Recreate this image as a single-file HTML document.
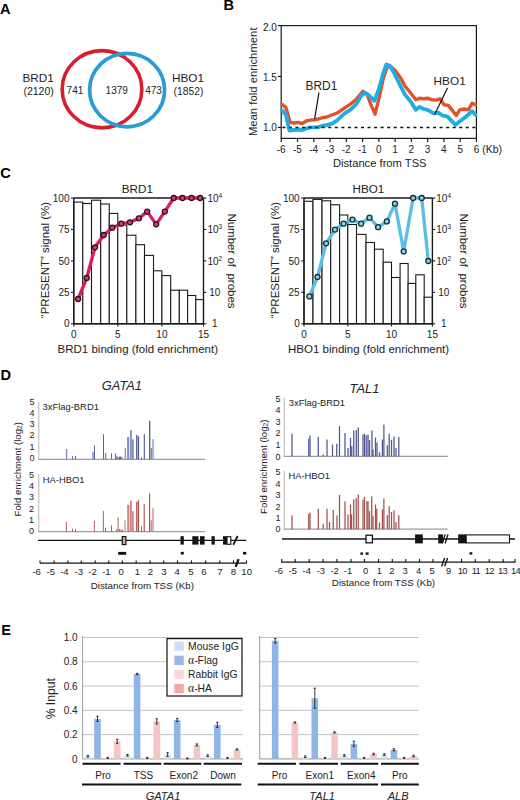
<!DOCTYPE html>
<html><head><meta charset="utf-8"><title>Figure</title>
<style>
html,body{margin:0;padding:0;background:#fff;}
body{width:520px;height:800px;overflow:hidden;}
svg{display:block;font-family:"Liberation Sans", sans-serif;}
</style></head>
<body>
<svg width="520" height="800" viewBox="0 0 520 800">
<rect x="0" y="0" width="520" height="800" fill="#fff"/>
<text x="0.0" y="14.2" font-size="14.6" font-weight="bold" fill="#000">A</text>
<text x="223.4" y="10.1" font-size="14.6" font-weight="bold" fill="#000">B</text>
<text x="0.3" y="177.7" font-size="14.6" font-weight="bold" fill="#000">C</text>
<text x="0.4" y="379.6" font-size="14.6" font-weight="bold" fill="#000">D</text>
<text x="1.3" y="635.0" font-size="14.6" font-weight="bold" fill="#000">E</text>
<ellipse cx="102" cy="89.25" rx="39.85" ry="38.65" fill="none" stroke="#d6202e" stroke-width="3.6"/>
<ellipse cx="127.1" cy="90.1" rx="37.5" ry="36.7" fill="none" stroke="#2a9ad8" stroke-width="3.7"/>
<text x="22.5" y="81.9" font-size="11.75" fill="#222">BRD1</text>
<text x="23.4" y="94.6" font-size="10.5" fill="#222">(2120)</text>
<text x="66.6" y="94.3" font-size="10" fill="#222">741</text>
<text x="105.6" y="94.3" font-size="10" fill="#222">1379</text>
<text x="145.2" y="94.3" font-size="10" fill="#222">473</text>
<text x="172.0" y="81.7" font-size="11.75" fill="#222">HBO1</text>
<text x="173.6" y="94.6" font-size="10.3" fill="#222">(1852)</text>
<rect x="281.2" y="25.6" width="195.2" height="112.80000000000001" fill="none" stroke="#1a1a1a" stroke-width="1.2"/>
<line x1="277.8" y1="25.60000000000001" x2="281.2" y2="25.60000000000001" stroke="#1a1a1a" stroke-width="1.2"/>
<text x="276.9" y="30.6" font-size="10" text-anchor="end" fill="#222">2.0</text>
<line x1="277.8" y1="76.5" x2="281.2" y2="76.5" stroke="#1a1a1a" stroke-width="1.2"/>
<text x="276.9" y="81.2" font-size="10" text-anchor="end" fill="#222">1.5</text>
<line x1="277.8" y1="127.4" x2="281.2" y2="127.4" stroke="#1a1a1a" stroke-width="1.2"/>
<text x="276.9" y="130.6" font-size="10" text-anchor="end" fill="#222">1.0</text>
<line x1="281.3" y1="138.4" x2="281.3" y2="141.9" stroke="#1a1a1a" stroke-width="1.2"/>
<text x="281.1" y="152.8" font-size="10" text-anchor="middle" fill="#222">-6</text>
<line x1="297.56" y1="138.4" x2="297.56" y2="141.9" stroke="#1a1a1a" stroke-width="1.2"/>
<text x="297.36" y="152.8" font-size="10" text-anchor="middle" fill="#222">-5</text>
<line x1="313.82" y1="138.4" x2="313.82" y2="141.9" stroke="#1a1a1a" stroke-width="1.2"/>
<text x="313.62" y="152.8" font-size="10" text-anchor="middle" fill="#222">-4</text>
<line x1="330.08000000000004" y1="138.4" x2="330.08000000000004" y2="141.9" stroke="#1a1a1a" stroke-width="1.2"/>
<text x="329.88000000000005" y="152.8" font-size="10" text-anchor="middle" fill="#222">-3</text>
<line x1="346.34000000000003" y1="138.4" x2="346.34000000000003" y2="141.9" stroke="#1a1a1a" stroke-width="1.2"/>
<text x="346.14000000000004" y="152.8" font-size="10" text-anchor="middle" fill="#222">-2</text>
<line x1="362.6" y1="138.4" x2="362.6" y2="141.9" stroke="#1a1a1a" stroke-width="1.2"/>
<text x="362.40000000000003" y="152.8" font-size="10" text-anchor="middle" fill="#222">-1</text>
<line x1="378.86" y1="138.4" x2="378.86" y2="141.9" stroke="#1a1a1a" stroke-width="1.2"/>
<text x="378.86" y="152.8" font-size="10" text-anchor="middle" fill="#222">0</text>
<line x1="395.12" y1="138.4" x2="395.12" y2="141.9" stroke="#1a1a1a" stroke-width="1.2"/>
<text x="395.12" y="152.8" font-size="10" text-anchor="middle" fill="#222">1</text>
<line x1="411.38" y1="138.4" x2="411.38" y2="141.9" stroke="#1a1a1a" stroke-width="1.2"/>
<text x="411.38" y="152.8" font-size="10" text-anchor="middle" fill="#222">2</text>
<line x1="427.64" y1="138.4" x2="427.64" y2="141.9" stroke="#1a1a1a" stroke-width="1.2"/>
<text x="427.64" y="152.8" font-size="10" text-anchor="middle" fill="#222">3</text>
<line x1="443.90000000000003" y1="138.4" x2="443.90000000000003" y2="141.9" stroke="#1a1a1a" stroke-width="1.2"/>
<text x="443.90000000000003" y="152.8" font-size="10" text-anchor="middle" fill="#222">4</text>
<line x1="460.16" y1="138.4" x2="460.16" y2="141.9" stroke="#1a1a1a" stroke-width="1.2"/>
<text x="460.16" y="152.8" font-size="10" text-anchor="middle" fill="#222">5</text>
<line x1="476.42" y1="138.4" x2="476.42" y2="141.9" stroke="#1a1a1a" stroke-width="1.2"/>
<text x="476.42" y="152.8" font-size="10" text-anchor="middle" fill="#222">6</text>
<text x="482.2" y="152.8" font-size="10.5" fill="#222">(Kb)</text>
<text x="332.9" y="166.8" font-size="11.2" fill="#222">Distance from TSS</text>
<text transform="translate(256.8 81.8) rotate(-90)" font-size="11.3" text-anchor="middle" fill="#222">Mean fold enrichment</text>
<polyline points="282.0,104.2 286.0,107.6 290.1,122.4 294.2,123.0 298.2,122.4 302.2,123.7 306.3,121.0 310.3,120.1 314.3,119.7 318.4,119.0 322.4,117.7 326.5,117.0 331.8,115.0 337.2,113.0 341.0,110.5 345.4,107.4 350.8,103.9 356.2,99.4 362.9,91.3 366.9,94.0 371.0,104.8 375.0,114.2 379.0,98.1 383.1,79.2 387.1,67.1 390.5,66.4 395.2,70.5 400.6,77.9 405.0,86.0 410.8,93.2 415.8,99.7 419.4,98.2 423.8,98.7 427.4,98.2 431.7,99.7 436.0,100.1 440.3,98.9 443.9,104.7 448.3,105.4 451.9,109.8 456.2,115.5 459.8,109.8 464.1,109.0 468.5,109.8 472.1,103.3 475.7,104.7" fill="none" stroke="#e2522a" stroke-width="3.4" stroke-linejoin="round" stroke-linecap="round"/>
<polyline points="282.0,110.3 286.0,115.0 289.4,130.5 294.2,129.8 298.2,129.5 302.2,130.0 306.3,128.5 310.3,127.4 314.3,127.4 318.4,127.1 322.4,125.8 326.5,125.1 331.8,123.7 337.2,120.4 340.5,117.0 345.4,112.9 350.8,109.3 356.2,104.4 361.5,95.4 364.9,92.7 368.9,95.4 374.3,100.8 379.0,88.6 383.1,73.8 386.4,64.4 389.8,65.8 393.8,72.5 399.2,83.3 405.0,94.6 410.8,101.8 415.8,109.8 419.4,106.9 423.8,109.0 427.4,109.8 433.8,113.4 438.2,112.6 442.5,115.5 447.5,116.7 455.5,124.9 459.8,121.3 465.6,117.0 472.1,111.2 475.7,114.8" fill="none" stroke="#1badE3" stroke-width="3.8" stroke-linejoin="round" stroke-linecap="round"/>
<line x1="282.4" y1="127.5" x2="476" y2="127.5" stroke="#111" stroke-width="1.6" stroke-dasharray="3.0 3.55"/>
<text x="305.6" y="90.3" font-size="11.9" fill="#222">BRD1</text>
<line x1="319" y1="92.3" x2="314.6" y2="119" stroke="#111" stroke-width="1.2"/>
<text x="433.6" y="84.7" font-size="11.8" fill="#222">HBO1</text>
<line x1="447.5" y1="88.1" x2="434.6" y2="114.5" stroke="#111" stroke-width="1.2"/>
<rect x="73.80" y="202.10" width="9.00" height="121.70" fill="#fff" stroke="#1a1a1a" stroke-width="1.1"/>
<rect x="82.80" y="203.50" width="8.70" height="120.30" fill="#fff" stroke="#1a1a1a" stroke-width="1.1"/>
<rect x="91.50" y="200.20" width="9.20" height="123.60" fill="#fff" stroke="#1a1a1a" stroke-width="1.1"/>
<rect x="100.70" y="204.00" width="8.60" height="119.80" fill="#fff" stroke="#1a1a1a" stroke-width="1.1"/>
<rect x="109.30" y="213.40" width="8.50" height="110.40" fill="#fff" stroke="#1a1a1a" stroke-width="1.1"/>
<rect x="117.80" y="225.00" width="9.00" height="98.80" fill="#fff" stroke="#1a1a1a" stroke-width="1.1"/>
<rect x="126.80" y="235.20" width="9.10" height="88.60" fill="#fff" stroke="#1a1a1a" stroke-width="1.1"/>
<rect x="135.90" y="244.70" width="8.60" height="79.10" fill="#fff" stroke="#1a1a1a" stroke-width="1.1"/>
<rect x="144.50" y="255.40" width="9.00" height="68.40" fill="#fff" stroke="#1a1a1a" stroke-width="1.1"/>
<rect x="153.50" y="270.80" width="8.40" height="53.00" fill="#fff" stroke="#1a1a1a" stroke-width="1.1"/>
<rect x="161.90" y="275.60" width="8.80" height="48.20" fill="#fff" stroke="#1a1a1a" stroke-width="1.1"/>
<rect x="170.70" y="290.20" width="8.60" height="33.60" fill="#fff" stroke="#1a1a1a" stroke-width="1.1"/>
<rect x="179.30" y="290.20" width="8.30" height="33.60" fill="#fff" stroke="#1a1a1a" stroke-width="1.1"/>
<rect x="187.60" y="295.50" width="8.20" height="28.30" fill="#fff" stroke="#1a1a1a" stroke-width="1.1"/>
<rect x="195.80" y="299.60" width="7.70" height="24.20" fill="#fff" stroke="#1a1a1a" stroke-width="1.1"/>
<line x1="73.8" y1="198.0" x2="203.5" y2="198.0" stroke="#1a1a1a" stroke-width="1.4"/>
<line x1="73.8" y1="198.0" x2="73.8" y2="324.40000000000003" stroke="#1a1a1a" stroke-width="1.4"/>
<line x1="203.5" y1="198.0" x2="203.5" y2="324.40000000000003" stroke="#1a1a1a" stroke-width="1.4"/>
<line x1="73.2" y1="323.8" x2="204.1" y2="323.8" stroke="#1a1a1a" stroke-width="1.4"/>
<line x1="71.0" y1="198.0" x2="73.8" y2="198.0" stroke="#1a1a1a" stroke-width="1.1"/>
<line x1="203.5" y1="198.0" x2="206.3" y2="198.0" stroke="#1a1a1a" stroke-width="1.1"/>
<text x="69.5" y="201.6" font-size="10" text-anchor="end" fill="#222">100</text>
<line x1="71.0" y1="229.45" x2="73.8" y2="229.45" stroke="#1a1a1a" stroke-width="1.1"/>
<line x1="203.5" y1="229.45" x2="206.3" y2="229.45" stroke="#1a1a1a" stroke-width="1.1"/>
<text x="69.5" y="233.04999999999998" font-size="10" text-anchor="end" fill="#222">75</text>
<line x1="71.0" y1="260.9" x2="73.8" y2="260.9" stroke="#1a1a1a" stroke-width="1.1"/>
<line x1="203.5" y1="260.9" x2="206.3" y2="260.9" stroke="#1a1a1a" stroke-width="1.1"/>
<text x="69.5" y="264.5" font-size="10" text-anchor="end" fill="#222">50</text>
<line x1="71.0" y1="292.35" x2="73.8" y2="292.35" stroke="#1a1a1a" stroke-width="1.1"/>
<line x1="203.5" y1="292.35" x2="206.3" y2="292.35" stroke="#1a1a1a" stroke-width="1.1"/>
<text x="69.5" y="295.95000000000005" font-size="10" text-anchor="end" fill="#222">25</text>
<line x1="71.0" y1="323.8" x2="73.8" y2="323.8" stroke="#1a1a1a" stroke-width="1.1"/>
<line x1="203.5" y1="323.8" x2="206.3" y2="323.8" stroke="#1a1a1a" stroke-width="1.1"/>
<text x="69.5" y="327.40000000000003" font-size="10" text-anchor="end" fill="#222">0</text>
<text x="214.8" y="201.6" font-size="10" text-anchor="middle" fill="#222">10<tspan font-size="6.5" dy="-4">4</tspan></text>
<text x="214.8" y="233.04999999999998" font-size="10" text-anchor="middle" fill="#222">10<tspan font-size="6.5" dy="-4">3</tspan></text>
<text x="214.8" y="264.5" font-size="10" text-anchor="middle" fill="#222">10<tspan font-size="6.5" dy="-4">2</tspan></text>
<text x="214.8" y="295.95000000000005" font-size="10" text-anchor="middle" fill="#222">10</text>
<text x="214.8" y="327.40000000000003" font-size="10" text-anchor="middle" fill="#222">1</text>
<line x1="73.8" y1="323.8" x2="73.8" y2="326.40000000000003" stroke="#1a1a1a" stroke-width="1.1"/>
<text x="73.8" y="337.6" font-size="10" text-anchor="middle" fill="#222">0</text>
<line x1="117.8" y1="323.8" x2="117.8" y2="326.40000000000003" stroke="#1a1a1a" stroke-width="1.1"/>
<text x="117.8" y="337.6" font-size="10" text-anchor="middle" fill="#222">5</text>
<line x1="161.9" y1="323.8" x2="161.9" y2="326.40000000000003" stroke="#1a1a1a" stroke-width="1.1"/>
<text x="161.9" y="337.6" font-size="10" text-anchor="middle" fill="#222">10</text>
<line x1="203.5" y1="323.8" x2="203.5" y2="326.40000000000003" stroke="#1a1a1a" stroke-width="1.1"/>
<text x="203.5" y="337.6" font-size="10" text-anchor="middle" fill="#222">15</text>
<polyline points="78.1,299.0 86.7,278.0 95.0,247.3 103.7,235.0 112.3,227.7 121.2,223.7 130.0,222.3 138.9,218.3 147.2,211.6 156.2,224.3 164.8,211.6 173.7,198.0 182.5,198.0 191.5,198.0 200.1,198.0" fill="none" stroke="#d81d68" stroke-width="3.3" stroke-linejoin="round" stroke-linecap="round"/>
<circle cx="78.1" cy="299" r="2.5" fill="#c24778" stroke="#3a0a1a" stroke-width="1.3"/>
<circle cx="86.7" cy="278" r="2.5" fill="#c24778" stroke="#3a0a1a" stroke-width="1.3"/>
<circle cx="95" cy="247.3" r="2.5" fill="#c24778" stroke="#3a0a1a" stroke-width="1.3"/>
<circle cx="103.7" cy="235" r="2.5" fill="#c24778" stroke="#3a0a1a" stroke-width="1.3"/>
<circle cx="112.3" cy="227.7" r="2.5" fill="#c24778" stroke="#3a0a1a" stroke-width="1.3"/>
<circle cx="121.2" cy="223.7" r="2.5" fill="#c24778" stroke="#3a0a1a" stroke-width="1.3"/>
<circle cx="130" cy="222.3" r="2.5" fill="#c24778" stroke="#3a0a1a" stroke-width="1.3"/>
<circle cx="138.9" cy="218.3" r="2.5" fill="#c24778" stroke="#3a0a1a" stroke-width="1.3"/>
<circle cx="147.2" cy="211.6" r="2.5" fill="#c24778" stroke="#3a0a1a" stroke-width="1.3"/>
<circle cx="156.2" cy="224.3" r="2.5" fill="#c24778" stroke="#3a0a1a" stroke-width="1.3"/>
<circle cx="164.8" cy="211.6" r="2.5" fill="#c24778" stroke="#3a0a1a" stroke-width="1.3"/>
<circle cx="173.7" cy="198" r="2.5" fill="#c24778" stroke="#3a0a1a" stroke-width="1.3"/>
<circle cx="182.5" cy="198" r="2.5" fill="#c24778" stroke="#3a0a1a" stroke-width="1.3"/>
<circle cx="191.5" cy="198" r="2.5" fill="#c24778" stroke="#3a0a1a" stroke-width="1.3"/>
<circle cx="200.1" cy="198" r="2.5" fill="#c24778" stroke="#3a0a1a" stroke-width="1.3"/>
<text x="137.3" y="193.2" font-size="11.7" text-anchor="middle" fill="#222">BRD1</text>
<text x="137.8" y="353.2" font-size="11.5" text-anchor="middle" fill="#222">BRD1 binding (fold enrichment)</text>
<text transform="translate(48.6 260) rotate(-90)" font-size="11.5" text-anchor="middle" fill="#222">“PRESENT” signal (%)</text>
<text transform="translate(227.7 261) rotate(90)" font-size="11.5" text-anchor="middle" fill="#222">Number of&#160;&#160;probes</text>
<rect x="304.00" y="201.30" width="9.00" height="122.50" fill="#fff" stroke="#1a1a1a" stroke-width="1.1"/>
<rect x="313.00" y="199.40" width="9.00" height="124.40" fill="#fff" stroke="#1a1a1a" stroke-width="1.1"/>
<rect x="322.00" y="200.80" width="8.70" height="123.00" fill="#fff" stroke="#1a1a1a" stroke-width="1.1"/>
<rect x="330.70" y="204.80" width="8.90" height="119.00" fill="#fff" stroke="#1a1a1a" stroke-width="1.1"/>
<rect x="339.60" y="215.00" width="8.20" height="108.80" fill="#fff" stroke="#1a1a1a" stroke-width="1.1"/>
<rect x="347.80" y="224.50" width="8.70" height="99.30" fill="#fff" stroke="#1a1a1a" stroke-width="1.1"/>
<rect x="356.50" y="234.40" width="9.50" height="89.40" fill="#fff" stroke="#1a1a1a" stroke-width="1.1"/>
<rect x="366.00" y="242.50" width="8.50" height="81.30" fill="#fff" stroke="#1a1a1a" stroke-width="1.1"/>
<rect x="374.50" y="249.20" width="8.70" height="74.60" fill="#fff" stroke="#1a1a1a" stroke-width="1.1"/>
<rect x="383.20" y="262.20" width="8.30" height="61.60" fill="#fff" stroke="#1a1a1a" stroke-width="1.1"/>
<rect x="391.50" y="277.50" width="8.60" height="46.30" fill="#fff" stroke="#1a1a1a" stroke-width="1.1"/>
<rect x="400.10" y="263.50" width="8.00" height="60.30" fill="#fff" stroke="#1a1a1a" stroke-width="1.1"/>
<rect x="408.10" y="283.40" width="7.70" height="40.40" fill="#fff" stroke="#1a1a1a" stroke-width="1.1"/>
<rect x="415.80" y="274.80" width="8.40" height="49.00" fill="#fff" stroke="#1a1a1a" stroke-width="1.1"/>
<rect x="424.20" y="297.20" width="8.20" height="26.60" fill="#fff" stroke="#1a1a1a" stroke-width="1.1"/>
<line x1="304" y1="198.0" x2="432.4" y2="198.0" stroke="#1a1a1a" stroke-width="1.4"/>
<line x1="304" y1="198.0" x2="304" y2="324.40000000000003" stroke="#1a1a1a" stroke-width="1.4"/>
<line x1="432.4" y1="198.0" x2="432.4" y2="324.40000000000003" stroke="#1a1a1a" stroke-width="1.4"/>
<line x1="303.4" y1="323.8" x2="433.0" y2="323.8" stroke="#1a1a1a" stroke-width="1.4"/>
<line x1="301.2" y1="198.0" x2="304" y2="198.0" stroke="#1a1a1a" stroke-width="1.1"/>
<line x1="432.4" y1="198.0" x2="435.2" y2="198.0" stroke="#1a1a1a" stroke-width="1.1"/>
<text x="299.7" y="201.6" font-size="10" text-anchor="end" fill="#222">100</text>
<line x1="301.2" y1="229.45" x2="304" y2="229.45" stroke="#1a1a1a" stroke-width="1.1"/>
<line x1="432.4" y1="229.45" x2="435.2" y2="229.45" stroke="#1a1a1a" stroke-width="1.1"/>
<text x="299.7" y="233.04999999999998" font-size="10" text-anchor="end" fill="#222">75</text>
<line x1="301.2" y1="260.9" x2="304" y2="260.9" stroke="#1a1a1a" stroke-width="1.1"/>
<line x1="432.4" y1="260.9" x2="435.2" y2="260.9" stroke="#1a1a1a" stroke-width="1.1"/>
<text x="299.7" y="264.5" font-size="10" text-anchor="end" fill="#222">50</text>
<line x1="301.2" y1="292.35" x2="304" y2="292.35" stroke="#1a1a1a" stroke-width="1.1"/>
<line x1="432.4" y1="292.35" x2="435.2" y2="292.35" stroke="#1a1a1a" stroke-width="1.1"/>
<text x="299.7" y="295.95000000000005" font-size="10" text-anchor="end" fill="#222">25</text>
<line x1="301.2" y1="323.8" x2="304" y2="323.8" stroke="#1a1a1a" stroke-width="1.1"/>
<line x1="432.4" y1="323.8" x2="435.2" y2="323.8" stroke="#1a1a1a" stroke-width="1.1"/>
<text x="299.7" y="327.40000000000003" font-size="10" text-anchor="end" fill="#222">0</text>
<text x="443.7" y="201.6" font-size="10" text-anchor="middle" fill="#222">10<tspan font-size="6.5" dy="-4">4</tspan></text>
<text x="443.7" y="233.04999999999998" font-size="10" text-anchor="middle" fill="#222">10<tspan font-size="6.5" dy="-4">3</tspan></text>
<text x="443.7" y="264.5" font-size="10" text-anchor="middle" fill="#222">10<tspan font-size="6.5" dy="-4">2</tspan></text>
<text x="443.7" y="295.95000000000005" font-size="10" text-anchor="middle" fill="#222">10</text>
<text x="443.7" y="327.40000000000003" font-size="10" text-anchor="middle" fill="#222">1</text>
<line x1="304" y1="323.8" x2="304" y2="326.40000000000003" stroke="#1a1a1a" stroke-width="1.1"/>
<text x="304" y="337.6" font-size="10" text-anchor="middle" fill="#222">0</text>
<line x1="347.8" y1="323.8" x2="347.8" y2="326.40000000000003" stroke="#1a1a1a" stroke-width="1.1"/>
<text x="347.8" y="337.6" font-size="10" text-anchor="middle" fill="#222">5</text>
<line x1="391.5" y1="323.8" x2="391.5" y2="326.40000000000003" stroke="#1a1a1a" stroke-width="1.1"/>
<text x="391.5" y="337.6" font-size="10" text-anchor="middle" fill="#222">10</text>
<line x1="432.4" y1="323.8" x2="432.4" y2="326.40000000000003" stroke="#1a1a1a" stroke-width="1.1"/>
<text x="432.4" y="337.6" font-size="10" text-anchor="middle" fill="#222">15</text>
<polyline points="309.4,296.4 317.5,277.0 326.1,243.3 335.0,229.6 343.6,223.7 352.5,219.6 361.1,223.7 369.5,217.7 378.1,227.2 386.8,221.4 395.0,203.7 403.7,251.4 413.1,198.0 421.7,198.0 428.3,261.0" fill="none" stroke="#5bbde6" stroke-width="3.3" stroke-linejoin="round" stroke-linecap="round"/>
<circle cx="309.4" cy="296.4" r="2.5" fill="#8ccfe9" stroke="#14303c" stroke-width="1.3"/>
<circle cx="317.5" cy="277" r="2.5" fill="#8ccfe9" stroke="#14303c" stroke-width="1.3"/>
<circle cx="326.1" cy="243.3" r="2.5" fill="#8ccfe9" stroke="#14303c" stroke-width="1.3"/>
<circle cx="335" cy="229.6" r="2.5" fill="#8ccfe9" stroke="#14303c" stroke-width="1.3"/>
<circle cx="343.6" cy="223.7" r="2.5" fill="#8ccfe9" stroke="#14303c" stroke-width="1.3"/>
<circle cx="352.5" cy="219.6" r="2.5" fill="#8ccfe9" stroke="#14303c" stroke-width="1.3"/>
<circle cx="361.1" cy="223.7" r="2.5" fill="#8ccfe9" stroke="#14303c" stroke-width="1.3"/>
<circle cx="369.5" cy="217.7" r="2.5" fill="#8ccfe9" stroke="#14303c" stroke-width="1.3"/>
<circle cx="378.1" cy="227.2" r="2.5" fill="#8ccfe9" stroke="#14303c" stroke-width="1.3"/>
<circle cx="386.8" cy="221.4" r="2.5" fill="#8ccfe9" stroke="#14303c" stroke-width="1.3"/>
<circle cx="395" cy="203.7" r="2.5" fill="#8ccfe9" stroke="#14303c" stroke-width="1.3"/>
<circle cx="403.7" cy="251.4" r="2.5" fill="#8ccfe9" stroke="#14303c" stroke-width="1.3"/>
<circle cx="413.1" cy="198" r="2.5" fill="#8ccfe9" stroke="#14303c" stroke-width="1.3"/>
<circle cx="421.7" cy="198" r="2.5" fill="#8ccfe9" stroke="#14303c" stroke-width="1.3"/>
<circle cx="428.3" cy="261" r="2.5" fill="#8ccfe9" stroke="#14303c" stroke-width="1.3"/>
<text x="368.4" y="193.4" font-size="11.7" text-anchor="middle" fill="#222">HBO1</text>
<text x="368.6" y="352.6" font-size="11.5" text-anchor="middle" fill="#222">HBO1 binding (fold enrichment)</text>
<text transform="translate(278.5 260) rotate(-90)" font-size="11.5" text-anchor="middle" fill="#222">“PRESENT” signal (%)</text>
<text transform="translate(460.0 261) rotate(90)" font-size="11.5" text-anchor="middle" fill="#222">Number of&#160;&#160;probes</text>
<text x="101.8" y="389.9" font-size="12.85" font-style="italic" fill="#222">GATA1</text>
<line x1="38.8" y1="402.2" x2="38.8" y2="459.3" stroke="#b4b4b4" stroke-width="1"/>
<line x1="38.3" y1="459.3" x2="205.0" y2="459.3" stroke="#9c9c9c" stroke-width="1.2"/>
<text x="31.9" y="461.0" font-size="9.0" text-anchor="middle" fill="#222">0</text>
<text x="31.9" y="449.71999999999997" font-size="9.0" text-anchor="middle" fill="#222">1</text>
<text x="31.9" y="438.44" font-size="9.0" text-anchor="middle" fill="#222">2</text>
<text x="31.9" y="427.15999999999997" font-size="9.0" text-anchor="middle" fill="#222">3</text>
<text x="31.9" y="415.88" font-size="9.0" text-anchor="middle" fill="#222">4</text>
<text x="31.9" y="404.59999999999997" font-size="9.0" text-anchor="middle" fill="#222">5</text>
<text x="42.6" y="409.9" font-size="9.4" fill="#222">3xFlag-BRD1</text>
<rect x="66.25" y="449.00" width="0.90" height="10.30" fill="#4c5494" stroke="none" stroke-width="1"/>
<rect x="72.05" y="456.40" width="0.90" height="2.90" fill="#4c5494" stroke="none" stroke-width="1"/>
<rect x="75.15" y="455.80" width="0.90" height="3.50" fill="#4c5494" stroke="none" stroke-width="1"/>
<rect x="92.30" y="451.70" width="1.40" height="7.60" fill="#8289c2" stroke="none" stroke-width="1"/>
<rect x="94.05" y="445.30" width="0.90" height="14.00" fill="#4c5494" stroke="none" stroke-width="1"/>
<rect x="103.05" y="434.20" width="0.90" height="25.10" fill="#4c5494" stroke="none" stroke-width="1"/>
<rect x="105.35" y="452.80" width="0.90" height="6.50" fill="#4c5494" stroke="none" stroke-width="1"/>
<rect x="111.05" y="453.30" width="0.90" height="6.00" fill="#4c5494" stroke="none" stroke-width="1"/>
<rect x="115.05" y="453.30" width="0.90" height="6.00" fill="#4c5494" stroke="none" stroke-width="1"/>
<rect x="116.35" y="456.40" width="0.90" height="2.90" fill="#4c5494" stroke="none" stroke-width="1"/>
<rect x="117.55" y="456.40" width="0.90" height="2.90" fill="#4c5494" stroke="none" stroke-width="1"/>
<rect x="119.05" y="456.80" width="0.90" height="2.50" fill="#4c5494" stroke="none" stroke-width="1"/>
<rect x="120.15" y="456.40" width="0.90" height="2.90" fill="#4c5494" stroke="none" stroke-width="1"/>
<rect x="121.55" y="457.00" width="0.90" height="2.30" fill="#4c5494" stroke="none" stroke-width="1"/>
<rect x="124.70" y="448.00" width="1.20" height="11.30" fill="#8289c2" stroke="none" stroke-width="1"/>
<rect x="127.10" y="437.00" width="2.00" height="22.30" fill="#8289c2" stroke="none" stroke-width="1"/>
<rect x="130.00" y="430.20" width="1.80" height="29.10" fill="#8289c2" stroke="none" stroke-width="1"/>
<rect x="132.05" y="439.30" width="1.70" height="20.00" fill="#8289c2" stroke="none" stroke-width="1"/>
<rect x="136.15" y="435.00" width="1.30" height="24.30" fill="#4c5494" stroke="none" stroke-width="1"/>
<rect x="137.95" y="436.20" width="1.10" height="23.10" fill="#4c5494" stroke="none" stroke-width="1"/>
<rect x="141.05" y="457.30" width="0.90" height="2.00" fill="#4c5494" stroke="none" stroke-width="1"/>
<rect x="143.75" y="434.00" width="1.10" height="25.30" fill="#4c5494" stroke="none" stroke-width="1"/>
<rect x="149.05" y="420.80" width="1.30" height="38.50" fill="#4c5494" stroke="none" stroke-width="1"/>
<rect x="150.65" y="448.00" width="1.50" height="11.30" fill="#8289c2" stroke="none" stroke-width="1"/>
<rect x="152.40" y="439.00" width="1.20" height="20.30" fill="#8289c2" stroke="none" stroke-width="1"/>
<line x1="38.8" y1="474.0" x2="38.8" y2="531.7" stroke="#b4b4b4" stroke-width="1"/>
<line x1="38.3" y1="531.7" x2="205.0" y2="531.7" stroke="#9c9c9c" stroke-width="1.2"/>
<text x="31.6" y="534.2" font-size="9.0" text-anchor="middle" fill="#222">0</text>
<text x="31.6" y="522.86" font-size="9.0" text-anchor="middle" fill="#222">1</text>
<text x="31.6" y="511.52" font-size="9.0" text-anchor="middle" fill="#222">2</text>
<text x="31.6" y="500.18" font-size="9.0" text-anchor="middle" fill="#222">3</text>
<text x="31.6" y="488.84" font-size="9.0" text-anchor="middle" fill="#222">4</text>
<text x="31.6" y="477.5" font-size="9.0" text-anchor="middle" fill="#222">5</text>
<text x="42.8" y="482.5" font-size="9.4" fill="#222">HA-HBO1</text>
<rect x="65.85" y="521.90" width="0.90" height="9.80" fill="#a24e4a" stroke="none" stroke-width="1"/>
<rect x="71.95" y="528.60" width="0.90" height="3.10" fill="#a24e4a" stroke="none" stroke-width="1"/>
<rect x="75.05" y="529.00" width="0.90" height="2.70" fill="#a24e4a" stroke="none" stroke-width="1"/>
<rect x="93.85" y="520.70" width="0.90" height="11.00" fill="#a24e4a" stroke="none" stroke-width="1"/>
<rect x="102.85" y="510.90" width="0.90" height="20.80" fill="#a24e4a" stroke="none" stroke-width="1"/>
<rect x="105.05" y="527.70" width="0.90" height="4.00" fill="#a24e4a" stroke="none" stroke-width="1"/>
<rect x="111.05" y="525.40" width="0.90" height="6.30" fill="#a24e4a" stroke="none" stroke-width="1"/>
<rect x="116.35" y="529.00" width="0.90" height="2.70" fill="#a24e4a" stroke="none" stroke-width="1"/>
<rect x="117.65" y="517.60" width="0.90" height="14.10" fill="#a24e4a" stroke="none" stroke-width="1"/>
<rect x="119.15" y="529.00" width="0.90" height="2.70" fill="#a24e4a" stroke="none" stroke-width="1"/>
<rect x="120.55" y="529.50" width="0.90" height="2.20" fill="#a24e4a" stroke="none" stroke-width="1"/>
<rect x="122.05" y="529.50" width="0.90" height="2.20" fill="#a24e4a" stroke="none" stroke-width="1"/>
<rect x="124.40" y="520.30" width="1.20" height="11.40" fill="#cc8682" stroke="none" stroke-width="1"/>
<rect x="127.20" y="504.80" width="2.20" height="26.90" fill="#cc8682" stroke="none" stroke-width="1"/>
<rect x="129.95" y="500.80" width="1.90" height="30.90" fill="#cc8682" stroke="none" stroke-width="1"/>
<rect x="132.05" y="511.30" width="1.70" height="20.40" fill="#cc8682" stroke="none" stroke-width="1"/>
<rect x="136.15" y="501.80" width="1.30" height="29.90" fill="#a24e4a" stroke="none" stroke-width="1"/>
<rect x="137.90" y="500.10" width="1.20" height="31.60" fill="#a24e4a" stroke="none" stroke-width="1"/>
<rect x="141.05" y="526.30" width="0.90" height="5.40" fill="#a24e4a" stroke="none" stroke-width="1"/>
<rect x="143.65" y="504.10" width="1.10" height="27.60" fill="#a24e4a" stroke="none" stroke-width="1"/>
<rect x="149.05" y="493.40" width="1.10" height="38.30" fill="#a24e4a" stroke="none" stroke-width="1"/>
<rect x="150.50" y="520.30" width="1.40" height="11.40" fill="#cc8682" stroke="none" stroke-width="1"/>
<rect x="152.35" y="508.20" width="1.30" height="23.50" fill="#cc8682" stroke="none" stroke-width="1"/>
<text transform="translate(20.9 469.3) rotate(-90)" font-size="9.6" text-anchor="middle" fill="#222">Fold enrichment (log<tspan font-size="6.5" dy="1.5">2</tspan><tspan dy="-1.5">)</tspan></text>
<text x="349.5" y="392.9" font-size="12.9" font-style="italic" fill="#222">TAL1</text>
<line x1="284.2" y1="397.6" x2="284.2" y2="456.4" stroke="#b4b4b4" stroke-width="1"/>
<line x1="283.7" y1="456.4" x2="447.7" y2="456.4" stroke="#9c9c9c" stroke-width="1.2"/>
<text x="278.0" y="459.59999999999997" font-size="9.0" text-anchor="middle" fill="#222">0</text>
<text x="278.0" y="448.03999999999996" font-size="9.0" text-anchor="middle" fill="#222">1</text>
<text x="278.0" y="436.47999999999996" font-size="9.0" text-anchor="middle" fill="#222">2</text>
<text x="278.0" y="424.92" font-size="9.0" text-anchor="middle" fill="#222">3</text>
<text x="278.0" y="413.36" font-size="9.0" text-anchor="middle" fill="#222">4</text>
<text x="278.0" y="401.8" font-size="9.0" text-anchor="middle" fill="#222">5</text>
<text x="288.8" y="405.9" font-size="9.4" fill="#222">3xFlag-BRD1</text>
<rect x="291.38" y="433.75" width="1.25" height="22.65" fill="#4f5696" stroke="none" stroke-width="1"/>
<rect x="308.12" y="438.75" width="1.25" height="17.65" fill="#4f5696" stroke="none" stroke-width="1"/>
<rect x="309.38" y="435.50" width="1.25" height="20.90" fill="#4f5696" stroke="none" stroke-width="1"/>
<rect x="317.62" y="437.00" width="1.25" height="19.40" fill="#4f5696" stroke="none" stroke-width="1"/>
<rect x="322.62" y="454.50" width="1.25" height="1.90" fill="#4f5696" stroke="none" stroke-width="1"/>
<rect x="326.38" y="439.50" width="1.25" height="16.90" fill="#4f5696" stroke="none" stroke-width="1"/>
<rect x="331.88" y="444.50" width="1.25" height="11.90" fill="#4f5696" stroke="none" stroke-width="1"/>
<rect x="336.12" y="443.75" width="1.25" height="12.65" fill="#4f5696" stroke="none" stroke-width="1"/>
<rect x="338.88" y="426.25" width="1.25" height="30.15" fill="#4f5696" stroke="none" stroke-width="1"/>
<rect x="344.38" y="433.00" width="1.25" height="23.40" fill="#4f5696" stroke="none" stroke-width="1"/>
<rect x="347.38" y="448.00" width="1.25" height="8.40" fill="#4f5696" stroke="none" stroke-width="1"/>
<rect x="349.88" y="438.00" width="1.25" height="18.40" fill="#4f5696" stroke="none" stroke-width="1"/>
<rect x="351.12" y="446.00" width="1.25" height="10.40" fill="#4f5696" stroke="none" stroke-width="1"/>
<rect x="353.12" y="430.50" width="1.25" height="25.90" fill="#4f5696" stroke="none" stroke-width="1"/>
<rect x="355.62" y="430.00" width="1.25" height="26.40" fill="#4f5696" stroke="none" stroke-width="1"/>
<rect x="357.62" y="427.50" width="1.25" height="28.90" fill="#4f5696" stroke="none" stroke-width="1"/>
<rect x="362.38" y="434.50" width="1.25" height="21.90" fill="#4f5696" stroke="none" stroke-width="1"/>
<rect x="363.88" y="433.80" width="1.25" height="22.60" fill="#4f5696" stroke="none" stroke-width="1"/>
<rect x="365.62" y="435.50" width="1.25" height="20.90" fill="#4f5696" stroke="none" stroke-width="1"/>
<rect x="367.38" y="434.50" width="1.25" height="21.90" fill="#4f5696" stroke="none" stroke-width="1"/>
<rect x="368.88" y="440.00" width="1.25" height="16.40" fill="#4f5696" stroke="none" stroke-width="1"/>
<rect x="371.38" y="430.50" width="1.25" height="25.90" fill="#4f5696" stroke="none" stroke-width="1"/>
<rect x="372.38" y="449.50" width="1.25" height="6.90" fill="#4f5696" stroke="none" stroke-width="1"/>
<rect x="374.88" y="437.50" width="1.25" height="18.90" fill="#4f5696" stroke="none" stroke-width="1"/>
<rect x="376.38" y="442.50" width="1.25" height="13.90" fill="#4f5696" stroke="none" stroke-width="1"/>
<rect x="378.88" y="452.50" width="1.25" height="3.90" fill="#4f5696" stroke="none" stroke-width="1"/>
<rect x="381.77" y="439.40" width="1.25" height="17.00" fill="#4f5696" stroke="none" stroke-width="1"/>
<rect x="383.27" y="424.60" width="1.25" height="31.80" fill="#4f5696" stroke="none" stroke-width="1"/>
<rect x="386.68" y="445.20" width="1.25" height="11.20" fill="#4f5696" stroke="none" stroke-width="1"/>
<rect x="388.57" y="433.70" width="1.25" height="22.70" fill="#4f5696" stroke="none" stroke-width="1"/>
<rect x="390.88" y="439.80" width="1.25" height="16.60" fill="#4f5696" stroke="none" stroke-width="1"/>
<rect x="393.38" y="436.50" width="1.25" height="19.90" fill="#4f5696" stroke="none" stroke-width="1"/>
<rect x="395.38" y="448.00" width="1.25" height="8.40" fill="#4f5696" stroke="none" stroke-width="1"/>
<rect x="398.18" y="437.00" width="1.25" height="19.40" fill="#4f5696" stroke="none" stroke-width="1"/>
<line x1="284.2" y1="471.0" x2="284.2" y2="529.2" stroke="#b4b4b4" stroke-width="1"/>
<line x1="283.7" y1="529.2" x2="447.7" y2="529.2" stroke="#9c9c9c" stroke-width="1.2"/>
<text x="278.0" y="532.4000000000001" font-size="9.0" text-anchor="middle" fill="#222">0</text>
<text x="278.0" y="520.96" font-size="9.0" text-anchor="middle" fill="#222">1</text>
<text x="278.0" y="509.52000000000004" font-size="9.0" text-anchor="middle" fill="#222">2</text>
<text x="278.0" y="498.08" font-size="9.0" text-anchor="middle" fill="#222">3</text>
<text x="278.0" y="486.64" font-size="9.0" text-anchor="middle" fill="#222">4</text>
<text x="278.0" y="475.2" font-size="9.0" text-anchor="middle" fill="#222">5</text>
<text x="288.4" y="478.5" font-size="9.4" fill="#222">HA-HBO1</text>
<rect x="291.38" y="515.50" width="1.25" height="13.70" fill="#a4504c" stroke="none" stroke-width="1"/>
<rect x="308.12" y="513.75" width="1.25" height="15.45" fill="#a4504c" stroke="none" stroke-width="1"/>
<rect x="309.38" y="512.50" width="1.25" height="16.70" fill="#a4504c" stroke="none" stroke-width="1"/>
<rect x="317.62" y="508.75" width="1.25" height="20.45" fill="#a4504c" stroke="none" stroke-width="1"/>
<rect x="322.62" y="523.75" width="1.25" height="5.45" fill="#a4504c" stroke="none" stroke-width="1"/>
<rect x="326.38" y="508.75" width="1.25" height="20.45" fill="#a4504c" stroke="none" stroke-width="1"/>
<rect x="328.88" y="522.00" width="1.25" height="7.20" fill="#a4504c" stroke="none" stroke-width="1"/>
<rect x="332.62" y="510.00" width="1.25" height="19.20" fill="#a4504c" stroke="none" stroke-width="1"/>
<rect x="336.38" y="515.50" width="1.25" height="13.70" fill="#a4504c" stroke="none" stroke-width="1"/>
<rect x="338.88" y="495.00" width="1.25" height="34.20" fill="#a4504c" stroke="none" stroke-width="1"/>
<rect x="344.38" y="501.25" width="1.25" height="27.95" fill="#a4504c" stroke="none" stroke-width="1"/>
<rect x="347.38" y="514.50" width="1.25" height="14.70" fill="#a4504c" stroke="none" stroke-width="1"/>
<rect x="349.88" y="504.50" width="1.25" height="24.70" fill="#a4504c" stroke="none" stroke-width="1"/>
<rect x="350.88" y="514.50" width="1.25" height="14.70" fill="#a4504c" stroke="none" stroke-width="1"/>
<rect x="353.12" y="499.50" width="1.25" height="29.70" fill="#a4504c" stroke="none" stroke-width="1"/>
<rect x="355.62" y="498.00" width="1.25" height="31.20" fill="#a4504c" stroke="none" stroke-width="1"/>
<rect x="357.62" y="494.50" width="1.25" height="34.70" fill="#a4504c" stroke="none" stroke-width="1"/>
<rect x="362.38" y="499.50" width="1.25" height="29.70" fill="#a4504c" stroke="none" stroke-width="1"/>
<rect x="363.88" y="497.00" width="1.25" height="32.20" fill="#a4504c" stroke="none" stroke-width="1"/>
<rect x="366.38" y="501.25" width="1.25" height="27.95" fill="#a4504c" stroke="none" stroke-width="1"/>
<rect x="367.38" y="501.25" width="1.25" height="27.95" fill="#a4504c" stroke="none" stroke-width="1"/>
<rect x="368.88" y="511.25" width="1.25" height="17.95" fill="#a4504c" stroke="none" stroke-width="1"/>
<rect x="371.12" y="496.25" width="1.25" height="32.95" fill="#a4504c" stroke="none" stroke-width="1"/>
<rect x="372.38" y="516.25" width="1.25" height="12.95" fill="#a4504c" stroke="none" stroke-width="1"/>
<rect x="374.88" y="504.50" width="1.25" height="24.70" fill="#a4504c" stroke="none" stroke-width="1"/>
<rect x="376.12" y="508.75" width="1.25" height="20.45" fill="#a4504c" stroke="none" stroke-width="1"/>
<rect x="378.88" y="522.50" width="1.25" height="6.70" fill="#a4504c" stroke="none" stroke-width="1"/>
<rect x="381.77" y="509.40" width="1.25" height="19.80" fill="#a4504c" stroke="none" stroke-width="1"/>
<rect x="383.27" y="498.50" width="1.25" height="30.70" fill="#a4504c" stroke="none" stroke-width="1"/>
<rect x="386.68" y="515.20" width="1.25" height="14.00" fill="#a4504c" stroke="none" stroke-width="1"/>
<rect x="388.57" y="506.20" width="1.25" height="23.00" fill="#a4504c" stroke="none" stroke-width="1"/>
<rect x="390.88" y="512.00" width="1.25" height="17.20" fill="#a4504c" stroke="none" stroke-width="1"/>
<rect x="393.38" y="510.40" width="1.25" height="18.80" fill="#a4504c" stroke="none" stroke-width="1"/>
<rect x="395.38" y="522.00" width="1.25" height="7.20" fill="#a4504c" stroke="none" stroke-width="1"/>
<rect x="398.18" y="515.20" width="1.25" height="14.00" fill="#a4504c" stroke="none" stroke-width="1"/>
<text transform="translate(266.9 466.8) rotate(-90)" font-size="9.6" text-anchor="middle" fill="#222">Fold enrichment (log<tspan font-size="6.5" dy="1.5">2</tspan><tspan dy="-1.5">)</tspan></text>
<line x1="38" y1="540.4" x2="246.2" y2="540.4" stroke="#141414" stroke-width="1.3"/>
<rect x="122.30" y="536.60" width="3.60" height="8.00" fill="#cbb0b0" stroke="#141414" stroke-width="1.2"/>
<rect x="180.50" y="536.20" width="3.30" height="8.40" fill="#141414" stroke="none" stroke-width="1"/>
<rect x="192.30" y="536.20" width="6.20" height="8.40" fill="#141414" stroke="none" stroke-width="1"/>
<rect x="200.00" y="536.20" width="4.60" height="8.40" fill="#141414" stroke="none" stroke-width="1"/>
<rect x="211.50" y="536.20" width="3.30" height="8.40" fill="#141414" stroke="none" stroke-width="1"/>
<rect x="223.00" y="536.20" width="4.00" height="8.40" fill="#141414" stroke="none" stroke-width="1"/>
<rect x="227.00" y="536.70" width="3.80" height="7.60" fill="#fff" stroke="#141414" stroke-width="1.1"/>
<line x1="233.3" y1="544.8" x2="237.6" y2="536.0" stroke="#141414" stroke-width="1.8"/>
<rect x="118.20" y="551.90" width="8.00" height="2.90" fill="#141414" stroke="none" stroke-width="1"/>
<rect x="180.80" y="551.90" width="3.00" height="2.60" fill="#141414" stroke="none" stroke-width="1"/>
<rect x="243.00" y="551.90" width="3.40" height="2.60" fill="#141414" stroke="none" stroke-width="1"/>
<line x1="40" y1="563.2" x2="246.6" y2="563.2" stroke="#141414" stroke-width="1.3"/>
<line x1="40" y1="560.4" x2="40" y2="563.2" stroke="#141414" stroke-width="1.1"/>
<line x1="54" y1="560.4" x2="54" y2="563.2" stroke="#141414" stroke-width="1.1"/>
<line x1="67.9" y1="560.4" x2="67.9" y2="563.2" stroke="#141414" stroke-width="1.1"/>
<line x1="81.3" y1="560.4" x2="81.3" y2="563.2" stroke="#141414" stroke-width="1.1"/>
<line x1="95.2" y1="560.4" x2="95.2" y2="563.2" stroke="#141414" stroke-width="1.1"/>
<line x1="108.8" y1="560.4" x2="108.8" y2="563.2" stroke="#141414" stroke-width="1.1"/>
<line x1="122.4" y1="560.4" x2="122.4" y2="563.2" stroke="#141414" stroke-width="1.1"/>
<line x1="136.2" y1="560.4" x2="136.2" y2="563.2" stroke="#141414" stroke-width="1.1"/>
<line x1="150.1" y1="560.4" x2="150.1" y2="563.2" stroke="#141414" stroke-width="1.1"/>
<line x1="163.6" y1="560.4" x2="163.6" y2="563.2" stroke="#141414" stroke-width="1.1"/>
<line x1="177.5" y1="560.4" x2="177.5" y2="563.2" stroke="#141414" stroke-width="1.1"/>
<line x1="191.5" y1="560.4" x2="191.5" y2="563.2" stroke="#141414" stroke-width="1.1"/>
<line x1="205.6" y1="560.4" x2="205.6" y2="563.2" stroke="#141414" stroke-width="1.1"/>
<line x1="219.8" y1="560.4" x2="219.8" y2="563.2" stroke="#141414" stroke-width="1.1"/>
<line x1="233.5" y1="560.4" x2="233.5" y2="563.2" stroke="#141414" stroke-width="1.1"/>
<line x1="246.5" y1="560.4" x2="246.5" y2="563.2" stroke="#141414" stroke-width="1.1"/>
<text x="36.7" y="575.4" font-size="9.6" text-anchor="middle" fill="#222">-6</text>
<text x="50.8" y="575.4" font-size="9.6" text-anchor="middle" fill="#222">-5</text>
<text x="64.4" y="575.4" font-size="9.6" text-anchor="middle" fill="#222">-4</text>
<text x="78.8" y="575.4" font-size="9.6" text-anchor="middle" fill="#222">-3</text>
<text x="92.5" y="575.4" font-size="9.6" text-anchor="middle" fill="#222">-2</text>
<text x="106.4" y="575.4" font-size="9.6" text-anchor="middle" fill="#222">-1</text>
<text x="121.1" y="575.4" font-size="9.6" text-anchor="middle" fill="#222">0</text>
<text x="137.3" y="575.4" font-size="9.6" text-anchor="middle" fill="#222">1</text>
<text x="150.4" y="575.4" font-size="9.6" text-anchor="middle" fill="#222">2</text>
<text x="164.0" y="575.4" font-size="9.6" text-anchor="middle" fill="#222">3</text>
<text x="177.2" y="575.4" font-size="9.6" text-anchor="middle" fill="#222">4</text>
<text x="190.8" y="575.4" font-size="9.6" text-anchor="middle" fill="#222">5</text>
<text x="204.0" y="575.4" font-size="9.6" text-anchor="middle" fill="#222">6</text>
<text x="219.9" y="575.4" font-size="9.6" text-anchor="middle" fill="#222">7</text>
<text x="233.3" y="575.4" font-size="9.6" text-anchor="middle" fill="#222">8</text>
<text x="246.7" y="575.4" font-size="9.6" text-anchor="middle" fill="#222">10</text>
<line x1="235.6" y1="566.8" x2="238.6" y2="559.2" stroke="#141414" stroke-width="2.3"/>
<text x="142.3" y="588.5" font-size="9.8" text-anchor="middle" fill="#222">Distance from TSS (Kb)</text>
<line x1="282" y1="539.0" x2="515" y2="539.0" stroke="#141414" stroke-width="1.3"/>
<rect x="366.00" y="535.20" width="6.40" height="7.60" fill="#fff" stroke="#141414" stroke-width="1.3"/>
<rect x="415.10" y="534.40" width="7.70" height="9.00" fill="#141414" stroke="none" stroke-width="1"/>
<rect x="438.20" y="534.40" width="4.90" height="9.00" fill="#141414" stroke="none" stroke-width="1"/>
<line x1="442.4" y1="543.4" x2="445.2" y2="534.4" stroke="#141414" stroke-width="1.4"/>
<line x1="445.2" y1="543.4" x2="448.0" y2="534.4" stroke="#141414" stroke-width="1.4"/>
<rect x="458.20" y="534.40" width="8.00" height="9.00" fill="#141414" stroke="none" stroke-width="1"/>
<rect x="466.20" y="534.90" width="43.30" height="8.00" fill="#fff" stroke="#141414" stroke-width="1.1"/>
<rect x="360.40" y="552.40" width="2.70" height="2.40" fill="#141414" stroke="none" stroke-width="1"/>
<rect x="365.60" y="552.40" width="3.00" height="2.40" fill="#141414" stroke="none" stroke-width="1"/>
<rect x="469.50" y="552.20" width="2.80" height="2.40" fill="#141414" stroke="none" stroke-width="1"/>
<line x1="281.2" y1="562.1" x2="515.5" y2="562.1" stroke="#141414" stroke-width="1.3"/>
<line x1="281.7" y1="558.9" x2="281.7" y2="562.1" stroke="#141414" stroke-width="1.1"/>
<line x1="295.2" y1="558.9" x2="295.2" y2="562.1" stroke="#141414" stroke-width="1.1"/>
<line x1="309.2" y1="558.9" x2="309.2" y2="562.1" stroke="#141414" stroke-width="1.1"/>
<line x1="323.1" y1="558.9" x2="323.1" y2="562.1" stroke="#141414" stroke-width="1.1"/>
<line x1="336.9" y1="558.9" x2="336.9" y2="562.1" stroke="#141414" stroke-width="1.1"/>
<line x1="351.0" y1="558.9" x2="351.0" y2="562.1" stroke="#141414" stroke-width="1.1"/>
<line x1="364.4" y1="558.9" x2="364.4" y2="562.1" stroke="#141414" stroke-width="1.1"/>
<line x1="378.6" y1="558.9" x2="378.6" y2="562.1" stroke="#141414" stroke-width="1.1"/>
<line x1="392.3" y1="558.9" x2="392.3" y2="562.1" stroke="#141414" stroke-width="1.1"/>
<line x1="405.8" y1="558.9" x2="405.8" y2="562.1" stroke="#141414" stroke-width="1.1"/>
<line x1="419.5" y1="558.9" x2="419.5" y2="562.1" stroke="#141414" stroke-width="1.1"/>
<line x1="433.0" y1="558.9" x2="433.0" y2="562.1" stroke="#141414" stroke-width="1.1"/>
<line x1="461.5" y1="558.9" x2="461.5" y2="562.1" stroke="#141414" stroke-width="1.1"/>
<line x1="475.3" y1="558.9" x2="475.3" y2="562.1" stroke="#141414" stroke-width="1.1"/>
<line x1="489.2" y1="558.9" x2="489.2" y2="562.1" stroke="#141414" stroke-width="1.1"/>
<line x1="503.2" y1="558.9" x2="503.2" y2="562.1" stroke="#141414" stroke-width="1.1"/>
<line x1="515.0" y1="558.9" x2="515.0" y2="562.1" stroke="#141414" stroke-width="1.1"/>
<text x="278.8" y="574.3" font-size="9.4" text-anchor="middle" fill="#222">-6</text>
<text x="292.7" y="574.3" font-size="9.4" text-anchor="middle" fill="#222">-5</text>
<text x="306.7" y="574.3" font-size="9.4" text-anchor="middle" fill="#222">-4</text>
<text x="320.8" y="574.3" font-size="9.4" text-anchor="middle" fill="#222">-3</text>
<text x="334.6" y="574.3" font-size="9.4" text-anchor="middle" fill="#222">-2</text>
<text x="348.0" y="574.3" font-size="9.4" text-anchor="middle" fill="#222">-1</text>
<text x="365.7" y="574.3" font-size="9.4" text-anchor="middle" fill="#222">0</text>
<text x="379.4" y="574.3" font-size="9.4" text-anchor="middle" fill="#222">1</text>
<text x="391.8" y="574.3" font-size="9.4" text-anchor="middle" fill="#222">2</text>
<text x="405.2" y="574.3" font-size="9.4" text-anchor="middle" fill="#222">3</text>
<text x="418.6" y="574.3" font-size="9.4" text-anchor="middle" fill="#222">4</text>
<text x="432.1" y="574.3" font-size="9.4" text-anchor="middle" fill="#222">5</text>
<text x="448.5" y="574.3" font-size="9.4" text-anchor="middle" fill="#222">9</text>
<text x="462.35" y="574.3" font-size="9.4" text-anchor="middle" fill="#222" letter-spacing="-0.7">10</text>
<text x="475.85" y="574.3" font-size="9.4" text-anchor="middle" fill="#222" letter-spacing="-0.7">11</text>
<text x="489.15000000000003" y="574.3" font-size="9.4" text-anchor="middle" fill="#222" letter-spacing="-0.7">12</text>
<text x="502.55" y="574.3" font-size="9.4" text-anchor="middle" fill="#222" letter-spacing="-0.7">13</text>
<text x="515.5500000000001" y="574.3" font-size="9.4" text-anchor="middle" fill="#222" letter-spacing="-0.7">14</text>
<line x1="441.6" y1="566.2" x2="444.6" y2="558.0" stroke="#141414" stroke-width="1.4"/>
<line x1="444.6" y1="566.2" x2="447.6" y2="558.0" stroke="#141414" stroke-width="1.4"/>
<text x="383.5" y="586.2" font-size="9.8" text-anchor="middle" fill="#222">Distance from TSS (Kb)</text>
<line x1="82.5" y1="734.62" x2="243.0" y2="734.62" stroke="#bfc2c7" stroke-width="1.0"/>
<line x1="82.5" y1="710.3399999999999" x2="243.0" y2="710.3399999999999" stroke="#bfc2c7" stroke-width="1.0"/>
<line x1="82.5" y1="686.06" x2="243.0" y2="686.06" stroke="#bfc2c7" stroke-width="1.0"/>
<line x1="82.5" y1="661.78" x2="243.0" y2="661.78" stroke="#bfc2c7" stroke-width="1.0"/>
<line x1="82.5" y1="637.5" x2="243.0" y2="637.5" stroke="#bfc2c7" stroke-width="1.0"/>
<line x1="82.5" y1="636.0" x2="82.5" y2="758.9" stroke="#a5a8ad" stroke-width="1.2"/>
<line x1="82.5" y1="758.9" x2="243.0" y2="758.9" stroke="#a5a8ad" stroke-width="1.2"/>
<rect x="84.60" y="756.23" width="6.60" height="2.67" fill="#cfe5f4" stroke="none" stroke-width="1"/>
<rect x="94.20" y="718.84" width="6.60" height="40.06" fill="#8eb5e4" stroke="none" stroke-width="1"/>
<rect x="104.40" y="757.93" width="6.60" height="0.97" fill="#f8d3d3" stroke="none" stroke-width="1"/>
<rect x="113.90" y="741.30" width="6.60" height="17.60" fill="#f4c5c5" stroke="none" stroke-width="1"/>
<rect x="124.20" y="755.26" width="6.60" height="3.64" fill="#cfe5f4" stroke="none" stroke-width="1"/>
<rect x="133.80" y="673.92" width="6.60" height="84.98" fill="#8eb5e4" stroke="none" stroke-width="1"/>
<rect x="144.00" y="757.93" width="6.60" height="0.97" fill="#f8d3d3" stroke="none" stroke-width="1"/>
<rect x="153.50" y="721.27" width="6.60" height="37.63" fill="#f4c5c5" stroke="none" stroke-width="1"/>
<rect x="164.30" y="754.65" width="6.60" height="4.25" fill="#cfe5f4" stroke="none" stroke-width="1"/>
<rect x="173.90" y="720.05" width="6.60" height="38.85" fill="#8eb5e4" stroke="none" stroke-width="1"/>
<rect x="184.10" y="758.41" width="6.60" height="0.49" fill="#f8d3d3" stroke="none" stroke-width="1"/>
<rect x="193.60" y="744.94" width="6.60" height="13.96" fill="#f4c5c5" stroke="none" stroke-width="1"/>
<rect x="204.40" y="755.62" width="6.60" height="3.28" fill="#cfe5f4" stroke="none" stroke-width="1"/>
<rect x="214.00" y="724.91" width="6.60" height="33.99" fill="#8eb5e4" stroke="none" stroke-width="1"/>
<rect x="224.20" y="757.93" width="6.60" height="0.97" fill="#f8d3d3" stroke="none" stroke-width="1"/>
<rect x="233.70" y="749.43" width="6.60" height="9.47" fill="#f4c5c5" stroke="none" stroke-width="1"/>
<line x1="87.89999999999999" y1="755.4292" x2="87.89999999999999" y2="757.0292" stroke="#222" stroke-width="0.9"/>
<line x1="86.69999999999999" y1="755.4292" x2="89.1" y2="755.4292" stroke="#222" stroke-width="0.9"/>
<line x1="86.69999999999999" y1="757.0292" x2="89.1" y2="757.0292" stroke="#222" stroke-width="0.9"/>
<line x1="97.49999999999999" y1="716.338" x2="97.49999999999999" y2="721.338" stroke="#222" stroke-width="0.9"/>
<line x1="96.29999999999998" y1="716.338" x2="98.69999999999999" y2="716.338" stroke="#222" stroke-width="0.9"/>
<line x1="96.29999999999998" y1="721.338" x2="98.69999999999999" y2="721.338" stroke="#222" stroke-width="0.9"/>
<line x1="107.69999999999999" y1="757.3288" x2="107.69999999999999" y2="758.5288" stroke="#222" stroke-width="0.9"/>
<line x1="106.49999999999999" y1="757.3288" x2="108.89999999999999" y2="757.3288" stroke="#222" stroke-width="0.9"/>
<line x1="106.49999999999999" y1="758.5288" x2="108.89999999999999" y2="758.5288" stroke="#222" stroke-width="0.9"/>
<line x1="117.19999999999999" y1="739.297" x2="117.19999999999999" y2="743.297" stroke="#222" stroke-width="0.9"/>
<line x1="115.99999999999999" y1="739.297" x2="118.39999999999999" y2="739.297" stroke="#222" stroke-width="0.9"/>
<line x1="115.99999999999999" y1="743.297" x2="118.39999999999999" y2="743.297" stroke="#222" stroke-width="0.9"/>
<line x1="127.5" y1="754.458" x2="127.5" y2="756.0579999999999" stroke="#222" stroke-width="0.9"/>
<line x1="126.3" y1="754.458" x2="128.7" y2="754.458" stroke="#222" stroke-width="0.9"/>
<line x1="126.3" y1="756.0579999999999" x2="128.7" y2="756.0579999999999" stroke="#222" stroke-width="0.9"/>
<line x1="137.10000000000002" y1="673.3199999999999" x2="137.10000000000002" y2="674.52" stroke="#222" stroke-width="0.9"/>
<line x1="135.90000000000003" y1="673.3199999999999" x2="138.3" y2="673.3199999999999" stroke="#222" stroke-width="0.9"/>
<line x1="135.90000000000003" y1="674.52" x2="138.3" y2="674.52" stroke="#222" stroke-width="0.9"/>
<line x1="147.3" y1="757.3288" x2="147.3" y2="758.5288" stroke="#222" stroke-width="0.9"/>
<line x1="146.10000000000002" y1="757.3288" x2="148.5" y2="757.3288" stroke="#222" stroke-width="0.9"/>
<line x1="146.10000000000002" y1="758.5288" x2="148.5" y2="758.5288" stroke="#222" stroke-width="0.9"/>
<line x1="156.8" y1="718.766" x2="156.8" y2="723.766" stroke="#222" stroke-width="0.9"/>
<line x1="155.60000000000002" y1="718.766" x2="158.0" y2="718.766" stroke="#222" stroke-width="0.9"/>
<line x1="155.60000000000002" y1="723.766" x2="158.0" y2="723.766" stroke="#222" stroke-width="0.9"/>
<line x1="167.60000000000002" y1="752.651" x2="167.60000000000002" y2="756.651" stroke="#222" stroke-width="0.9"/>
<line x1="166.40000000000003" y1="752.651" x2="168.8" y2="752.651" stroke="#222" stroke-width="0.9"/>
<line x1="166.40000000000003" y1="756.651" x2="168.8" y2="756.651" stroke="#222" stroke-width="0.9"/>
<line x1="177.20000000000002" y1="718.552" x2="177.20000000000002" y2="721.552" stroke="#222" stroke-width="0.9"/>
<line x1="176.00000000000003" y1="718.552" x2="178.4" y2="718.552" stroke="#222" stroke-width="0.9"/>
<line x1="176.00000000000003" y1="721.552" x2="178.4" y2="721.552" stroke="#222" stroke-width="0.9"/>
<line x1="187.40000000000003" y1="757.9144" x2="187.40000000000003" y2="758.9144" stroke="#222" stroke-width="0.9"/>
<line x1="186.20000000000005" y1="757.9144" x2="188.60000000000002" y2="757.9144" stroke="#222" stroke-width="0.9"/>
<line x1="186.20000000000005" y1="758.9144" x2="188.60000000000002" y2="758.9144" stroke="#222" stroke-width="0.9"/>
<line x1="196.90000000000003" y1="743.939" x2="196.90000000000003" y2="745.939" stroke="#222" stroke-width="0.9"/>
<line x1="195.70000000000005" y1="743.939" x2="198.10000000000002" y2="743.939" stroke="#222" stroke-width="0.9"/>
<line x1="195.70000000000005" y1="745.939" x2="198.10000000000002" y2="745.939" stroke="#222" stroke-width="0.9"/>
<line x1="207.70000000000002" y1="754.8222000000001" x2="207.70000000000002" y2="756.4222" stroke="#222" stroke-width="0.9"/>
<line x1="206.50000000000003" y1="754.8222000000001" x2="208.9" y2="754.8222000000001" stroke="#222" stroke-width="0.9"/>
<line x1="206.50000000000003" y1="756.4222" x2="208.9" y2="756.4222" stroke="#222" stroke-width="0.9"/>
<line x1="217.3" y1="722.408" x2="217.3" y2="727.408" stroke="#222" stroke-width="0.9"/>
<line x1="216.10000000000002" y1="722.408" x2="218.5" y2="722.408" stroke="#222" stroke-width="0.9"/>
<line x1="216.10000000000002" y1="727.408" x2="218.5" y2="727.408" stroke="#222" stroke-width="0.9"/>
<line x1="227.50000000000003" y1="757.4288" x2="227.50000000000003" y2="758.4288" stroke="#222" stroke-width="0.9"/>
<line x1="226.30000000000004" y1="757.4288" x2="228.70000000000002" y2="757.4288" stroke="#222" stroke-width="0.9"/>
<line x1="226.30000000000004" y1="758.4288" x2="228.70000000000002" y2="758.4288" stroke="#222" stroke-width="0.9"/>
<line x1="237.00000000000003" y1="748.8308" x2="237.00000000000003" y2="750.0308" stroke="#222" stroke-width="0.9"/>
<line x1="235.80000000000004" y1="748.8308" x2="238.20000000000002" y2="748.8308" stroke="#222" stroke-width="0.9"/>
<line x1="235.80000000000004" y1="750.0308" x2="238.20000000000002" y2="750.0308" stroke="#222" stroke-width="0.9"/>
<line x1="259.6" y1="734.62" x2="418.8" y2="734.62" stroke="#bfc2c7" stroke-width="1.0"/>
<line x1="259.6" y1="710.3399999999999" x2="418.8" y2="710.3399999999999" stroke="#bfc2c7" stroke-width="1.0"/>
<line x1="259.6" y1="686.06" x2="418.8" y2="686.06" stroke="#bfc2c7" stroke-width="1.0"/>
<line x1="259.6" y1="661.78" x2="418.8" y2="661.78" stroke="#bfc2c7" stroke-width="1.0"/>
<line x1="259.6" y1="637.5" x2="418.8" y2="637.5" stroke="#bfc2c7" stroke-width="1.0"/>
<line x1="259.6" y1="636.0" x2="259.6" y2="758.9" stroke="#a5a8ad" stroke-width="1.2"/>
<line x1="259.6" y1="758.9" x2="418.8" y2="758.9" stroke="#a5a8ad" stroke-width="1.2"/>
<rect x="271.90" y="640.78" width="6.60" height="118.12" fill="#8eb5e4" stroke="none" stroke-width="1"/>
<rect x="291.60" y="722.48" width="6.60" height="36.42" fill="#f4c5c5" stroke="none" stroke-width="1"/>
<rect x="301.90" y="756.71" width="6.60" height="2.19" fill="#cfe5f4" stroke="none" stroke-width="1"/>
<rect x="311.50" y="698.20" width="6.60" height="60.70" fill="#8eb5e4" stroke="none" stroke-width="1"/>
<rect x="321.70" y="757.93" width="6.60" height="0.97" fill="#f8d3d3" stroke="none" stroke-width="1"/>
<rect x="331.20" y="732.43" width="6.60" height="26.47" fill="#f4c5c5" stroke="none" stroke-width="1"/>
<rect x="341.00" y="755.50" width="6.60" height="3.40" fill="#cfe5f4" stroke="none" stroke-width="1"/>
<rect x="350.60" y="743.73" width="6.60" height="15.18" fill="#8eb5e4" stroke="none" stroke-width="1"/>
<rect x="360.80" y="757.93" width="6.60" height="0.97" fill="#f8d3d3" stroke="none" stroke-width="1"/>
<rect x="370.30" y="754.04" width="6.60" height="4.86" fill="#f4c5c5" stroke="none" stroke-width="1"/>
<rect x="381.00" y="754.53" width="6.60" height="4.37" fill="#cfe5f4" stroke="none" stroke-width="1"/>
<rect x="390.60" y="749.79" width="6.60" height="9.11" fill="#8eb5e4" stroke="none" stroke-width="1"/>
<rect x="400.80" y="757.93" width="6.60" height="0.97" fill="#f8d3d3" stroke="none" stroke-width="1"/>
<rect x="410.30" y="755.99" width="6.60" height="2.91" fill="#f4c5c5" stroke="none" stroke-width="1"/>
<line x1="275.20000000000005" y1="638.4778" x2="275.20000000000005" y2="643.0777999999999" stroke="#222" stroke-width="0.9"/>
<line x1="274.00000000000006" y1="638.4778" x2="276.40000000000003" y2="638.4778" stroke="#222" stroke-width="0.9"/>
<line x1="274.00000000000006" y1="643.0777999999999" x2="276.40000000000003" y2="643.0777999999999" stroke="#222" stroke-width="0.9"/>
<line x1="294.90000000000003" y1="721.88" x2="294.90000000000003" y2="723.08" stroke="#222" stroke-width="0.9"/>
<line x1="293.70000000000005" y1="721.88" x2="296.1" y2="721.88" stroke="#222" stroke-width="0.9"/>
<line x1="293.70000000000005" y1="723.08" x2="296.1" y2="723.08" stroke="#222" stroke-width="0.9"/>
<line x1="305.2" y1="755.9148" x2="305.2" y2="757.5147999999999" stroke="#222" stroke-width="0.9"/>
<line x1="304.0" y1="755.9148" x2="306.4" y2="755.9148" stroke="#222" stroke-width="0.9"/>
<line x1="304.0" y1="757.5147999999999" x2="306.4" y2="757.5147999999999" stroke="#222" stroke-width="0.9"/>
<line x1="314.8" y1="688.1999999999999" x2="314.8" y2="708.1999999999999" stroke="#222" stroke-width="0.9"/>
<line x1="313.6" y1="688.1999999999999" x2="316.0" y2="688.1999999999999" stroke="#222" stroke-width="0.9"/>
<line x1="313.6" y1="708.1999999999999" x2="316.0" y2="708.1999999999999" stroke="#222" stroke-width="0.9"/>
<line x1="325.0" y1="757.4288" x2="325.0" y2="758.4288" stroke="#222" stroke-width="0.9"/>
<line x1="323.8" y1="757.4288" x2="326.2" y2="757.4288" stroke="#222" stroke-width="0.9"/>
<line x1="323.8" y1="758.4288" x2="326.2" y2="758.4288" stroke="#222" stroke-width="0.9"/>
<line x1="334.5" y1="731.8348" x2="334.5" y2="733.0348" stroke="#222" stroke-width="0.9"/>
<line x1="333.3" y1="731.8348" x2="335.7" y2="731.8348" stroke="#222" stroke-width="0.9"/>
<line x1="333.3" y1="733.0348" x2="335.7" y2="733.0348" stroke="#222" stroke-width="0.9"/>
<line x1="344.3" y1="754.7008000000001" x2="344.3" y2="756.3008" stroke="#222" stroke-width="0.9"/>
<line x1="343.1" y1="754.7008000000001" x2="345.5" y2="754.7008000000001" stroke="#222" stroke-width="0.9"/>
<line x1="343.1" y1="756.3008" x2="345.5" y2="756.3008" stroke="#222" stroke-width="0.9"/>
<line x1="353.90000000000003" y1="741.125" x2="353.90000000000003" y2="746.325" stroke="#222" stroke-width="0.9"/>
<line x1="352.70000000000005" y1="741.125" x2="355.1" y2="741.125" stroke="#222" stroke-width="0.9"/>
<line x1="352.70000000000005" y1="746.325" x2="355.1" y2="746.325" stroke="#222" stroke-width="0.9"/>
<line x1="364.1" y1="757.4288" x2="364.1" y2="758.4288" stroke="#222" stroke-width="0.9"/>
<line x1="362.90000000000003" y1="757.4288" x2="365.3" y2="757.4288" stroke="#222" stroke-width="0.9"/>
<line x1="362.90000000000003" y1="758.4288" x2="365.3" y2="758.4288" stroke="#222" stroke-width="0.9"/>
<line x1="373.6" y1="753.244" x2="373.6" y2="754.8439999999999" stroke="#222" stroke-width="0.9"/>
<line x1="372.40000000000003" y1="753.244" x2="374.8" y2="753.244" stroke="#222" stroke-width="0.9"/>
<line x1="372.40000000000003" y1="754.8439999999999" x2="374.8" y2="754.8439999999999" stroke="#222" stroke-width="0.9"/>
<line x1="384.3" y1="753.7296" x2="384.3" y2="755.3295999999999" stroke="#222" stroke-width="0.9"/>
<line x1="383.1" y1="753.7296" x2="385.5" y2="753.7296" stroke="#222" stroke-width="0.9"/>
<line x1="383.1" y1="755.3295999999999" x2="385.5" y2="755.3295999999999" stroke="#222" stroke-width="0.9"/>
<line x1="393.90000000000003" y1="748.795" x2="393.90000000000003" y2="750.795" stroke="#222" stroke-width="0.9"/>
<line x1="392.70000000000005" y1="748.795" x2="395.1" y2="748.795" stroke="#222" stroke-width="0.9"/>
<line x1="392.70000000000005" y1="750.795" x2="395.1" y2="750.795" stroke="#222" stroke-width="0.9"/>
<line x1="404.1" y1="757.4288" x2="404.1" y2="758.4288" stroke="#222" stroke-width="0.9"/>
<line x1="402.90000000000003" y1="757.4288" x2="405.3" y2="757.4288" stroke="#222" stroke-width="0.9"/>
<line x1="402.90000000000003" y1="758.4288" x2="405.3" y2="758.4288" stroke="#222" stroke-width="0.9"/>
<line x1="413.6" y1="755.1864" x2="413.6" y2="756.7864" stroke="#222" stroke-width="0.9"/>
<line x1="412.40000000000003" y1="755.1864" x2="414.8" y2="755.1864" stroke="#222" stroke-width="0.9"/>
<line x1="412.40000000000003" y1="756.7864" x2="414.8" y2="756.7864" stroke="#222" stroke-width="0.9"/>
<text x="77.6" y="762.5" font-size="10" text-anchor="end" fill="#222">0</text>
<text x="77.6" y="738.22" font-size="10" text-anchor="end" fill="#222">0.2</text>
<text x="77.6" y="713.9399999999999" font-size="10" text-anchor="end" fill="#222">0.4</text>
<text x="77.6" y="689.66" font-size="10" text-anchor="end" fill="#222">0.6</text>
<text x="77.6" y="665.38" font-size="10" text-anchor="end" fill="#222">0.8</text>
<text x="77.6" y="641.1" font-size="10" text-anchor="end" fill="#222">1.0</text>
<text transform="translate(55.4 698.7) rotate(-90)" font-size="12.2" text-anchor="middle" fill="#222">% Input</text>
<rect x="167.00" y="638.60" width="75.00" height="57.40" fill="#fff" stroke="#111" stroke-width="1.2"/>
<rect x="174.30" y="641.60" width="9.50" height="9.30" fill="#c9e2f3" stroke="none" stroke-width="1"/>
<text x="188.1" y="650.0" font-size="10.35" fill="#222">Mouse IgG</text>
<rect x="174.30" y="655.70" width="9.50" height="9.30" fill="#9ab9e4" stroke="none" stroke-width="1"/>
<text x="188.1" y="664.1" font-size="10.35" fill="#222"><tspan font-family="Liberation Serif" font-size="11.5">α</tspan>-Flag</text>
<rect x="174.30" y="669.80" width="9.50" height="9.30" fill="#fad6d6" stroke="none" stroke-width="1"/>
<text x="188.1" y="678.2" font-size="10.35" fill="#222">Rabbit IgG</text>
<rect x="174.30" y="683.90" width="9.50" height="9.30" fill="#f4a8a6" stroke="none" stroke-width="1"/>
<text x="188.1" y="692.3" font-size="10.35" fill="#222"><tspan font-family="Liberation Serif" font-size="11.5">α</tspan>-HA</text>
<line x1="82.5" y1="763.8" x2="120.6" y2="763.8" stroke="#111" stroke-width="2.0"/>
<line x1="123.6" y1="763.8" x2="161.3" y2="763.8" stroke="#111" stroke-width="2.0"/>
<line x1="163.7" y1="763.8" x2="201.3" y2="763.8" stroke="#111" stroke-width="2.0"/>
<line x1="203.7" y1="763.8" x2="242.0" y2="763.8" stroke="#111" stroke-width="2.0"/>
<line x1="257.7" y1="763.8" x2="296.0" y2="763.8" stroke="#111" stroke-width="2.0"/>
<line x1="299.4" y1="763.8" x2="338.0" y2="763.8" stroke="#111" stroke-width="2.0"/>
<line x1="340.6" y1="763.8" x2="378.3" y2="763.8" stroke="#111" stroke-width="2.0"/>
<line x1="381.0" y1="763.8" x2="418.8" y2="763.8" stroke="#111" stroke-width="2.0"/>
<line x1="82.0" y1="784.5" x2="241.3" y2="784.5" stroke="#111" stroke-width="2.0"/>
<line x1="257.7" y1="784.5" x2="378.0" y2="784.5" stroke="#111" stroke-width="2.0"/>
<line x1="381.0" y1="784.5" x2="418.8" y2="784.5" stroke="#111" stroke-width="2.0"/>
<text x="103.0" y="779.0" font-size="10" text-anchor="middle" fill="#222">Pro</text>
<text x="143.4" y="779.0" font-size="10" text-anchor="middle" fill="#222">TSS</text>
<text x="183.8" y="779.0" font-size="10" text-anchor="middle" fill="#222">Exon2</text>
<text x="223.0" y="779.0" font-size="10" text-anchor="middle" fill="#222">Down</text>
<text x="279.6" y="779.0" font-size="10" text-anchor="middle" fill="#222">Pro</text>
<text x="319.8" y="779.0" font-size="10" text-anchor="middle" fill="#222">Exon1</text>
<text x="361.3" y="779.0" font-size="10" text-anchor="middle" fill="#222">Exon4</text>
<text x="399.8" y="779.0" font-size="10" text-anchor="middle" fill="#222">Pro</text>
<text x="163.0" y="799.6" font-size="11.1" text-anchor="middle" font-style="italic" fill="#222">GATA1</text>
<text x="322.2" y="799.6" font-size="11.1" text-anchor="middle" font-style="italic" fill="#222">TAL1</text>
<text x="398.2" y="799.6" font-size="11.1" text-anchor="middle" font-style="italic" fill="#222">ALB</text>
</svg>
</body></html>
